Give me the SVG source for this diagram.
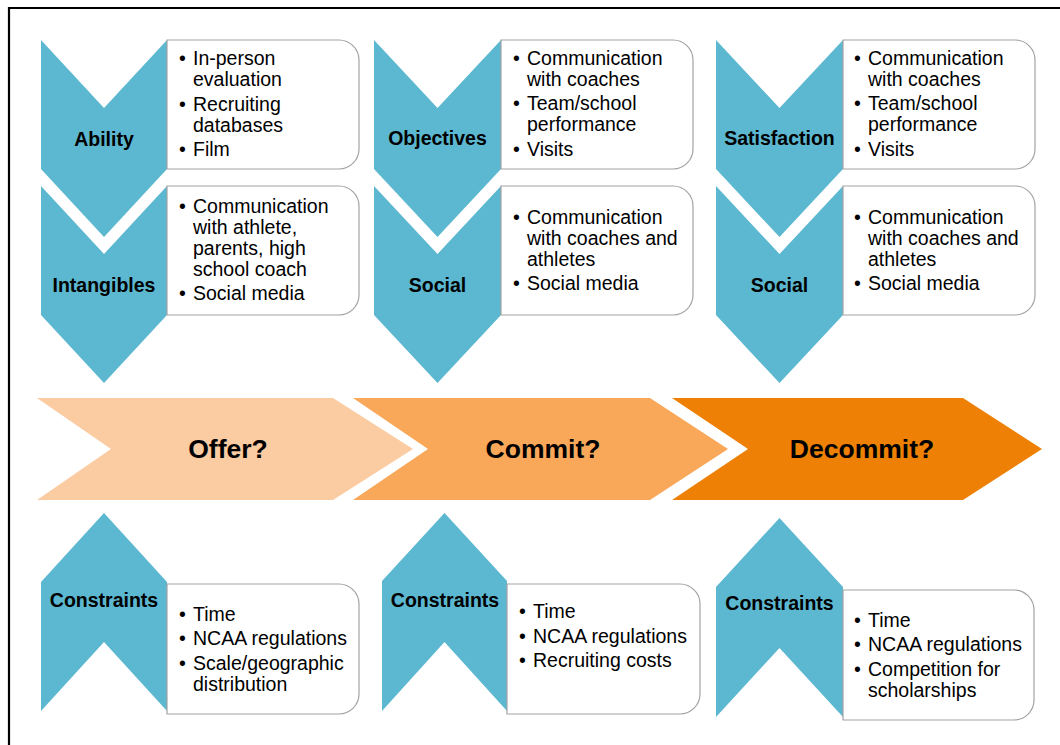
<svg xmlns="http://www.w3.org/2000/svg" width="1060" height="745" viewBox="0 0 1060 745">
  <style>
    .chev { fill: #5BB8D0; }
    .box { fill: #FFFFFF; stroke: #A3A3A3; stroke-width: 1.2; }
    .lbl { font-family: "Liberation Sans", Arial, sans-serif; font-weight: bold; font-size: 19.5px; fill: #000; text-anchor: middle; }
    .txt { font-family: "Liberation Sans", Arial, sans-serif; font-size: 19.5px; fill: #000; }
    .stage { font-family: "Liberation Sans", Arial, sans-serif; font-weight: bold; font-size: 26.5px; fill: #000; text-anchor: middle; }
  </style>

  <rect width="1060" height="745" fill="#FFFFFF"/>
  <!-- frame: only the top and left edges fall inside the canvas -->
  <path d="M9,745 V8 H1060" fill="none" stroke="#000" stroke-width="2.2"/>

  <!-- decision stages -->
  <g id="stage-offer">
    <path d="M37,398 H333 L413,449 L333,500 H37 L111,449 Z" fill="#FBCBA1"/>
    <text class="stage" x="228" y="458">Offer?</text>
  </g>
  <g id="stage-commit">
    <path d="M353,398 H650 L728,449 L650,500 H353 L428,449 Z" fill="#F9A85A"/>
    <text class="stage" x="543" y="458">Commit?</text>
  </g>
  <g id="stage-decommit">
    <path d="M672,398 H963 L1042,449 L963,500 H672 L748,449 Z" fill="#ED8005"/>
    <text class="stage" x="862" y="458">Decommit?</text>
  </g>

  <!-- column 1: coach side of the offer -->
  <g id="ability">
    <path class="chev" d="M41,40 L104,108 L167,40 V169 L104,237 L41,169 Z"/>
    <path class="box" d="M167,40 H339 A20,20 0 0 1 359,60 V149 A20,20 0 0 1 339,169 H167 Z"/>
    <text class="lbl" x="104" y="145.5">Ability</text>
    <text class="txt">
      <tspan x="179" y="65">•</tspan><tspan x="193" y="65">In-person</tspan>
      <tspan x="193" y="86">evaluation</tspan>
      <tspan x="179" y="111">•</tspan><tspan x="193" y="111">Recruiting</tspan>
      <tspan x="193" y="132">databases</tspan>
      <tspan x="179" y="156">•</tspan><tspan x="193" y="156">Film</tspan>
    </text>
  </g>
  <g id="intangibles">
    <path class="chev" d="M41,186 L104,254 L167,186 V315 L104,383 L41,315 Z"/>
    <path class="box" d="M167,186 H339 A20,20 0 0 1 359,206 V295 A20,20 0 0 1 339,315 H167 Z"/>
    <text class="lbl" x="104" y="292">Intangibles</text>
    <text class="txt">
      <tspan x="179" y="213">•</tspan><tspan x="193" y="213">Communication</tspan>
      <tspan x="193" y="234">with athlete,</tspan>
      <tspan x="193" y="255">parents, high</tspan>
      <tspan x="193" y="276">school coach</tspan>
      <tspan x="179" y="300">•</tspan><tspan x="193" y="300">Social media</tspan>
    </text>
  </g>

  <!-- column 2: athlete side of the commitment -->
  <g id="objectives">
    <path class="chev" d="M374,40 L437.5,108 L501,40 V169 L437.5,237 L374,169 Z"/>
    <path class="box" d="M501,40 H673 A20,20 0 0 1 693,60 V149 A20,20 0 0 1 673,169 H501 Z"/>
    <text class="lbl" x="437.5" y="145">Objectives</text>
    <text class="txt">
      <tspan x="513" y="65">•</tspan><tspan x="527" y="65">Communication</tspan>
      <tspan x="527" y="86">with coaches</tspan>
      <tspan x="513" y="110">•</tspan><tspan x="527" y="110">Team/school</tspan>
      <tspan x="527" y="131">performance</tspan>
      <tspan x="513" y="156">•</tspan><tspan x="527" y="156">Visits</tspan>
    </text>
  </g>
  <g id="social-commit">
    <path class="chev" d="M374,186 L437.5,254 L501,186 V315 L437.5,383 L374,315 Z"/>
    <path class="box" d="M501,186 H673 A20,20 0 0 1 693,206 V295 A20,20 0 0 1 673,315 H501 Z"/>
    <text class="lbl" x="437.5" y="292">Social</text>
    <text class="txt">
      <tspan x="513" y="224">•</tspan><tspan x="527" y="224">Communication</tspan>
      <tspan x="527" y="245">with coaches and</tspan>
      <tspan x="527" y="266">athletes</tspan>
      <tspan x="513" y="290">•</tspan><tspan x="527" y="290">Social media</tspan>
    </text>
  </g>

  <!-- column 3: athlete side of the decommitment -->
  <g id="satisfaction">
    <path class="chev" d="M716,40 L779.5,108 L843,40 V169 L779.5,237 L716,169 Z"/>
    <path class="box" d="M843,40 H1015 A20,20 0 0 1 1035,60 V149 A20,20 0 0 1 1015,169 H843 Z"/>
    <text class="lbl" x="779.5" y="145">Satisfaction</text>
    <text class="txt">
      <tspan x="854" y="65">•</tspan><tspan x="868" y="65">Communication</tspan>
      <tspan x="868" y="86">with coaches</tspan>
      <tspan x="854" y="110">•</tspan><tspan x="868" y="110">Team/school</tspan>
      <tspan x="868" y="131">performance</tspan>
      <tspan x="854" y="156">•</tspan><tspan x="868" y="156">Visits</tspan>
    </text>
  </g>
  <g id="social-decommit">
    <path class="chev" d="M716,186 L779.5,254 L843,186 V315 L779.5,383 L716,315 Z"/>
    <path class="box" d="M843,186 H1015 A20,20 0 0 1 1035,206 V295 A20,20 0 0 1 1015,315 H843 Z"/>
    <text class="lbl" x="779.5" y="292">Social</text>
    <text class="txt">
      <tspan x="854" y="224">•</tspan><tspan x="868" y="224">Communication</tspan>
      <tspan x="868" y="245">with coaches and</tspan>
      <tspan x="868" y="266">athletes</tspan>
      <tspan x="854" y="290">•</tspan><tspan x="868" y="290">Social media</tspan>
    </text>
  </g>

  <!-- constraints under each stage -->
  <g id="constraints-offer">
    <path class="chev" d="M41,582 L104,513 L167,582 V711 L104,642 L41,711 Z"/>
    <path class="box" d="M167,584 H339 A20,20 0 0 1 359,604 V694 A20,20 0 0 1 339,714 H167 Z"/>
    <text class="lbl" x="104" y="607">Constraints</text>
    <text class="txt">
      <tspan x="179" y="621">•</tspan><tspan x="193" y="621">Time</tspan>
      <tspan x="179" y="645">•</tspan><tspan x="193" y="645">NCAA regulations</tspan>
      <tspan x="179" y="670">•</tspan><tspan x="193" y="670">Scale/geographic</tspan>
      <tspan x="193" y="691">distribution</tspan>
    </text>
  </g>
  <g id="constraints-commit">
    <path class="chev" d="M382,581 L444.5,513 L507,581 V711 L444.5,642 L382,711 Z"/>
    <path class="box" d="M507,584 H680 A20,20 0 0 1 700,604 V694 A20,20 0 0 1 680,714 H507 Z"/>
    <text class="lbl" x="445" y="607">Constraints</text>
    <text class="txt">
      <tspan x="519" y="618">•</tspan><tspan x="533" y="618">Time</tspan>
      <tspan x="519" y="643">•</tspan><tspan x="533" y="643">NCAA regulations</tspan>
      <tspan x="519" y="667">•</tspan><tspan x="533" y="667">Recruiting costs</tspan>
    </text>
  </g>
  <g id="constraints-decommit">
    <path class="chev" d="M716,587 L779.5,518 L843,587 V717 L779.5,648 L716,717 Z"/>
    <path class="box" d="M843,590 H1014 A20,20 0 0 1 1034,610 V700 A20,20 0 0 1 1014,720 H843 Z"/>
    <text class="lbl" x="779.5" y="610">Constraints</text>
    <text class="txt">
      <tspan x="854" y="627">•</tspan><tspan x="868" y="627">Time</tspan>
      <tspan x="854" y="651">•</tspan><tspan x="868" y="651">NCAA regulations</tspan>
      <tspan x="854" y="676">•</tspan><tspan x="868" y="676">Competition for</tspan>
      <tspan x="868" y="697">scholarships</tspan>
    </text>
  </g>

  <!-- connectors: none drawn; the flow is carried by the shapes -->
  <g id="connectors"/>
</svg>
